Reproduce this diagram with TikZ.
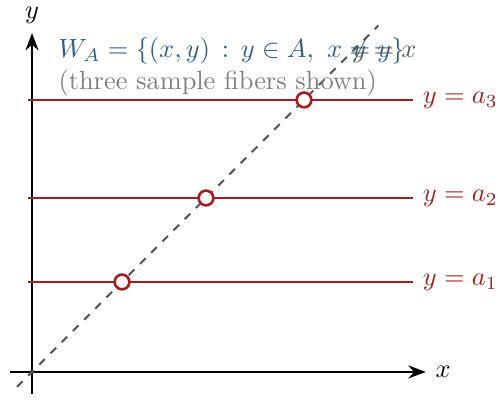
\documentclass[tikz,border=0pt]{standalone}
\usepackage{xcolor}
\definecolor{fiberRed}{HTML}{A81C1C}
\definecolor{setBlue}{HTML}{2E5F8C}
\definecolor{noteGray}{HTML}{7F7F7F}
\definecolor{diagGray}{HTML}{5A5A5A}
\usepackage{tikz}
\usetikzlibrary{
    arrows.meta,
    positioning
}
\tikzset{
    % Coordinate axes
    axis/.style={
        -{Stealth},
        thick,
        draw=black,
    },
    % Horizontal fibers y = a_i
    fiber/.style={
        draw=fiberRed,
        thick,
    },
    fiber label/.style={
        text=fiberRed,
        right,
    },
    % Removed point where a fiber meets the diagonal
    gap dot/.style={
        circle,
        draw=fiberRed,
        fill=white,
        line width=1pt,
        minimum size=5.6pt,
        inner sep=0pt,
    },
    % Diagonal y = x
    diagonal/.style={
        dashed,
        draw=diagGray,
        thick,
    },
    % Caption text at the top left
    caption text/.style={
        anchor=base west,
        inner sep=0pt,
    },
}

\begin{document}
\begin{tikzpicture}
    \useasboundingbox (-0.427,-0.373) rectangle (6.227,4.96);

    \coordinate (xmin) at (-0.3,0);
    \coordinate (xmax) at (5.25,0);
    \coordinate (ymin) at (0,-0.3);
    \coordinate (ymax) at (0,4.52);
    \coordinate (dbot) at (-0.2,-0.2);
    \coordinate (dtop) at (4.62,4.62);

    \coordinate (f1l) at (-0.05,1.2);
    \coordinate (f1r) at (5.08,1.2);
    \coordinate (f2l) at (-0.05,2.32);
    \coordinate (f2r) at (5.08,2.32);
    \coordinate (f3l) at (-0.05,3.627);
    \coordinate (f3r) at (5.08,3.627);

    \draw [axis] (xmin) -- (xmax) node (xlab) [right] {$x$};
    \draw [axis] (ymin) -- (ymax) node (ylab) [above] {$y$};

    \draw [diagonal] (dbot) -- (dtop);

    \draw [fiber] (f1l) -- (f1r) node (lab1) [fiber label] {$y=a_1$};
    \draw [fiber] (f2l) -- (f2r) node (lab2) [fiber label] {$y=a_2$};
    \draw [fiber] (f3l) -- (f3r) node (lab3) [fiber label] {$y=a_3$};

    \node (dot1) [gap dot] at (1.2,1.2) {};
    \node (dot2) [gap dot] at (2.32,2.32) {};
    \node (dot3) [gap dot] at (3.627,3.627) {};

    \node (setdef) [caption text, text=setBlue] at (0.347,4.187) {$W_A=\{(x,y)\,:\,y\in A,\ x\neq y\}$};
    \node (note) [caption text, text=noteGray] at (0.347,3.76) {(three sample fibers shown)};

    \node (diaglab) [text=diagGray, below=0.15cm of dtop, xshift=0.08cm] {$y=x$};
\end{tikzpicture}
\end{document}
